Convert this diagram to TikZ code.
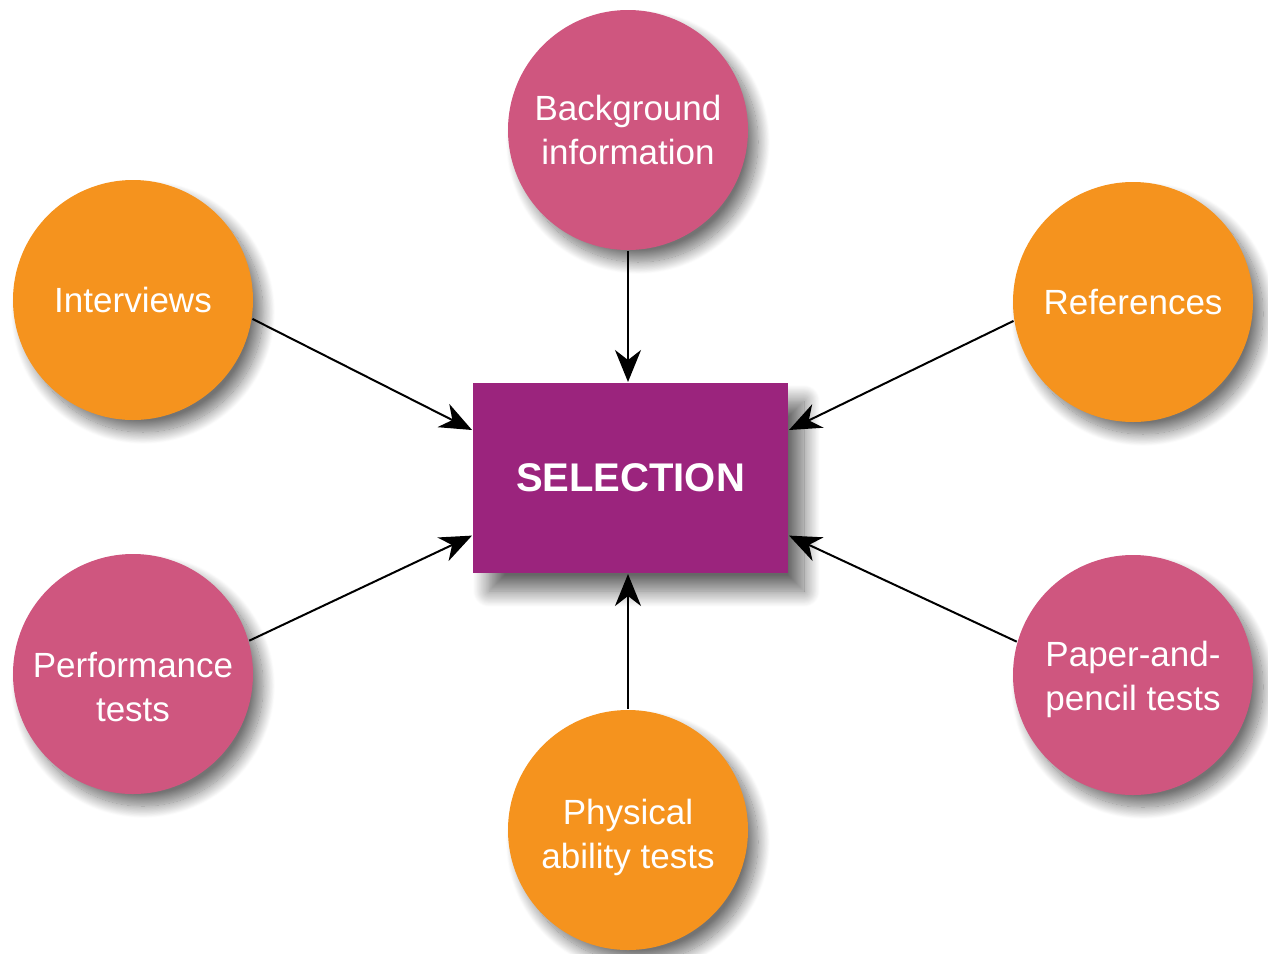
\documentclass[tikz,border=0pt]{standalone}
\usepackage{fontspec}
\setmainfont{Liberation Sans}
\usetikzlibrary{arrows.meta,shadows.blur,calc}

\definecolor{pinkc}{RGB}{207,86,127}
\definecolor{orangec}{RGB}{245,147,30}
\definecolor{purplec}{RGB}{155,36,125}

\tikzset{every picture/.style={line width=1pt}}
\tikzset{
  bubble/.style={circle,minimum size=120pt,inner sep=0pt,align=center,text=white,
    font=\fontsize{17.5}{22}\selectfont,
    blur shadow={shadow xshift=5pt,shadow yshift=-6pt,shadow blur radius=6pt,shadow blur steps=20,shadow opacity=55}},
  pinkbubble/.style={bubble,fill=pinkc},
  orangebubble/.style={bubble,fill=orangec},
  selbox/.style={rectangle,fill=purplec,minimum width=157.5pt,minimum height=95pt,inner sep=0pt,
    text=white,font=\fontsize{20}{24}\selectfont\bfseries,
    blur shadow={shadow xshift=8pt,shadow yshift=-9pt,shadow blur radius=8pt,shadow blur steps=20,shadow opacity=60}},
  feed/.style={-{Stealth[length=16pt,width=13pt,inset=5pt]},black}
}

\begin{document}
\begin{tikzpicture}[x=0.5pt,y=0.5pt,yscale=-1,xscale=1]
\useasboundingbox (0,0) rectangle (1268,953);

%Shape: Rectangle [id:selection]
\node [selbox] (sel) at (630.5,478) {SELECTION};

%Shape: Circle [id:background]
\node [pinkbubble] (bg) at (628,130) {Background\\information};
%Shape: Circle [id:interviews]
\node [orangebubble] (iv) at (133,300) {Interviews};
%Shape: Circle [id:references]
\node [orangebubble] (ref) at (1133,302) {References};
%Shape: Circle [id:performance]
\node [pinkbubble] (perf) at (133,674) {\rule{0pt}{26pt}Performance\\tests};
%Shape: Circle [id:paper]
\node [pinkbubble] (pap) at (1133,675) {\rule{0pt}{17pt}Paper-and-\\pencil tests};
%Shape: Circle [id:physical]
\node [orangebubble] (phy) at (628,830) {\rule{0pt}{20pt}Physical\\ability tests};

%Straight Lines
\draw [feed] (bg.south) -- (bg.south |- sel.north);
\draw [feed] (phy.north) -- (phy.north |- sel.south);
\draw [feed] (iv.-9) -- ($(sel.north west)!0.25!(sel.south west)$);
\draw [feed] (ref.189) -- ($(sel.north east)!0.25!(sel.south east)$);
\draw [feed] (perf.16) -- ($(sel.north west)!0.8!(sel.south west)$);
\draw [feed] (pap.164) -- ($(sel.north east)!0.8!(sel.south east)$);

\end{tikzpicture}
\end{document}
